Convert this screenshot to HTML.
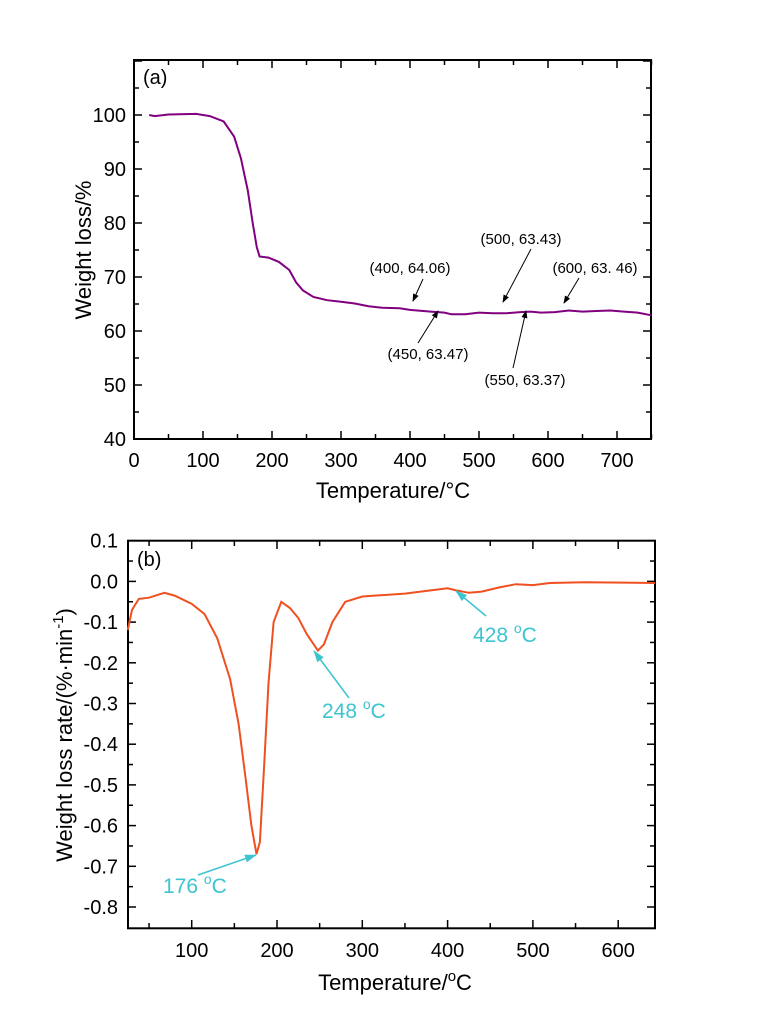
<!DOCTYPE html>
<html><head><meta charset="utf-8"><style>
body{margin:0;background:#fff}
svg{display:block;font-family:"Liberation Sans",sans-serif}
</style></head><body>
<svg id="s" width="763" height="1018" xmlns="http://www.w3.org/2000/svg">
<defs>
<marker id="ak" markerWidth="8" markerHeight="8" refX="7" refY="4" orient="auto" markerUnits="userSpaceOnUse"><path d="M0,1 L8,4 L0,7z" fill="#000"/></marker>
<marker id="ac" markerWidth="12" markerHeight="10" refX="11" refY="5" orient="auto" markerUnits="userSpaceOnUse"><path d="M0,1 L12,5 L0,9z" fill="#3cc4d0"/></marker>
</defs>
<g id="g"></g>
<text x="143" y="84" font-size="20">(a)</text>
<text x="137" y="566" font-size="20">(b)</text>
<g font-size="15" fill="#000">
<text x="410" y="273" text-anchor="middle">(400, 64.06)</text>
<text x="521" y="244" text-anchor="middle">(500, 63.43)</text>
<text x="595" y="273" text-anchor="middle">(600, 63. 46)</text>
<text x="428" y="359" text-anchor="middle">(450, 63.47)</text>
<text x="525" y="385" text-anchor="middle">(550, 63.37)</text>
</g>
<g stroke="#000" stroke-width="1" marker-end="url(#ak)">
<line x1="423" y1="279" x2="413" y2="301"/>
<line x1="531" y1="249" x2="503" y2="302"/>
<line x1="579" y1="278" x2="564" y2="303"/>
<line x1="418" y1="343" x2="438" y2="311"/>
<line x1="513" y1="368" x2="526" y2="311"/>
</g>
<g fill="#3cc4d0" font-size="21">
<text x="163" y="893">176 <tspan dy="-9" font-size="14">o</tspan><tspan dy="9">C</tspan></text>
<text x="322" y="718">248 <tspan dy="-9" font-size="14">o</tspan><tspan dy="9">C</tspan></text>
<text x="473" y="642">428 <tspan dy="-9" font-size="14">o</tspan><tspan dy="9">C</tspan></text>
</g>
<g stroke="#3cc4d0" stroke-width="1.5" marker-end="url(#ac)">
<line x1="198" y1="875" x2="256" y2="855"/>
<line x1="349" y1="698" x2="314" y2="651"/>
<line x1="486" y1="616" x2="456" y2="591"/>
</g>
</svg>
<script>
var g=document.getElementById('g'),h='';
function L(a,b,c,d,w){h+='<line x1="'+a+'" y1="'+b+'" x2="'+c+'" y2="'+d+'" stroke="#000" stroke-width="'+(w||1.5)+'"/>';}
function T(x,y,t,a,s){h+='<text x="'+x+'" y="'+y+'" font-size="'+(s||20)+'" text-anchor="'+(a||'middle')+'">'+t+'</text>';}
// plot a
var ax=function(t){return 134+0.69*t},ay=function(v){return 439-(v-40)*5.4};
h+='<rect x="134" y="60" width="517" height="379" fill="none" stroke="#000" stroke-width="2"/>';
for(var t=0;t<=750;t+=50){var x=ax(t);L(x,439,x,t%100?434:431);L(x,60,x,t%100?65:68);if(t%100==0)T(x,467,t);}
for(var v=40;v<=110;v+=5){var y=ay(v);L(134,y,v%10?139:142,y);L(651,y,v%10?646:643,y);if(v%10==0&&v<=100)T(126,y+7,v,'end');}
T(393,498,'Temperature/°C','middle',22);
h+='<text transform="translate(91,250) rotate(-90)" font-size="22" text-anchor="middle">Weight loss/%</text>';
var A=[[22,100],[30,99.8],[50,100.1],[90,100.2],[110,99.8],[130,98.8],[145,96],[155,92],[165,86],[172,80],[178,75.5],[182,73.8],[195,73.6],[210,72.8],[225,71.3],[235,69],[245,67.5],[260,66.3],[280,65.7],[300,65.4],[320,65.1],[340,64.6],[360,64.3],[385,64.2],[400,63.9],[430,63.6],[450,63.4],[460,63.1],[480,63.1],[500,63.4],[520,63.3],[540,63.3],[560,63.5],[575,63.6],[590,63.4],[610,63.5],[630,63.8],[650,63.6],[670,63.7],[690,63.8],[710,63.6],[730,63.4],[750,62.9]];
h+='<polyline fill="none" stroke="#800080" stroke-width="2" points="'+A.map(function(p){return ax(p[0]).toFixed(1)+','+ay(p[1]).toFixed(1)}).join(' ')+'"/>';
// plot b
var bx=function(t){return 191.7+(t-100)*0.853},by=function(v){return 540.7+(0.1-v)*407};
h+='<rect x="128" y="540.7" width="527" height="387.6" fill="none" stroke="#000" stroke-width="2"/>';
for(var t=50;t<=650;t+=50){var x=bx(t);if(x>654)continue;L(x,928.3,x,t%100?923:920);L(x,540.7,x,t%100?546:549);if(t%100==0)T(x,957,t);}
for(var i=0;i<=18;i++){var v=0.1-i*0.05,y=by(v);if(y>928)continue;L(128,y,i%2?133:136,y);L(655,y,i%2?650:647,y);if(i%2==0)T(118,y+7,(v<-0.001?'-':'')+Math.abs(v).toFixed(1),'end');}
h+='<text x="395" y="990" font-size="22" text-anchor="middle">Temperature/<tspan dy="-9" font-size="15">o</tspan><tspan dy="9">C</tspan></text>';
h+='<text transform="translate(72,735) rotate(-90)" font-size="22" text-anchor="middle">Weight loss rate/(%·min<tspan dy="-9" font-size="15">-1</tspan><tspan dy="9">)</tspan></text>';
var B=[[25,-0.12],[30,-0.07],[38,-0.043],[50,-0.04],[68,-0.028],[80,-0.035],[100,-0.055],[115,-0.08],[130,-0.14],[145,-0.24],[155,-0.35],[163,-0.48],[170,-0.6],[176,-0.67],[180,-0.64],[185,-0.45],[190,-0.25],[196,-0.1],[205,-0.05],[215,-0.065],[225,-0.09],[235,-0.13],[248,-0.17],[255,-0.155],[265,-0.1],[280,-0.05],[300,-0.037],[350,-0.03],[380,-0.022],[400,-0.017],[410,-0.022],[425,-0.028],[440,-0.025],[460,-0.015],[480,-0.007],[500,-0.009],[520,-0.004],[560,-0.002],[643,-0.004]];
h+='<polyline fill="none" stroke="#f05020" stroke-width="2" points="'+B.map(function(p){return bx(p[0]).toFixed(1)+','+by(p[1]).toFixed(1)}).join(' ')+'"/>';
g.innerHTML=h;
</script>
</body></html>
